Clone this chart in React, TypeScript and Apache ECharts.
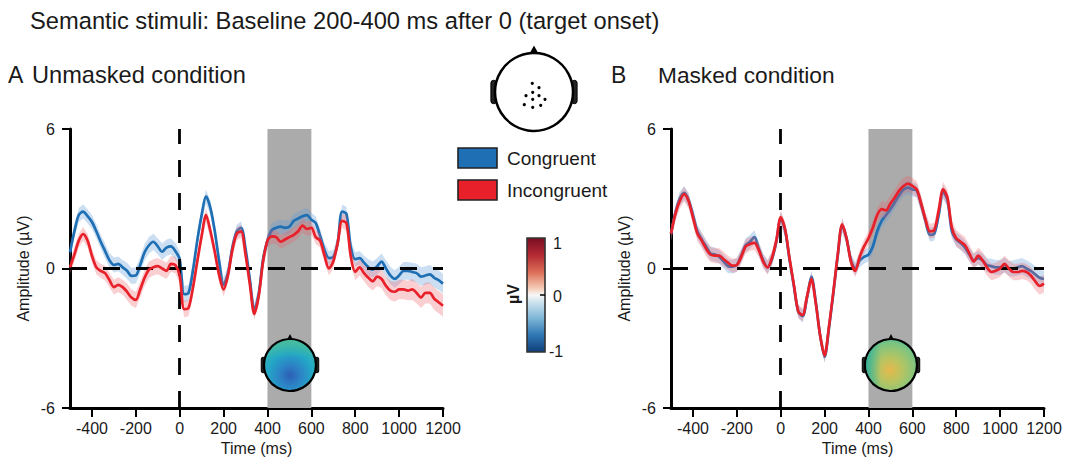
import React, { useEffect, useRef } from "react";
import * as echarts from "echarts";

// ---------- data ----------
const times = [
  -500, -480, -460, -440, -420, -400, -380, -360, -340, -320,
  -300, -280, -260, -240, -220, -200, -180, -160, -140, -120,
  -100, -80, -60, -40, -20, 0, 20, 40, 60, 80,
  100, 120, 140, 160, 180, 200, 220, 240, 260, 280,
  300, 320, 340, 360, 380, 400, 420, 440, 460, 480,
  500, 520, 540, 560, 580, 600, 620, 640, 660, 680,
  700, 720, 740, 760, 780, 800, 820, 840, 860, 880,
  900, 920, 940, 960, 980, 1000, 1020, 1040, 1060, 1080,
  1100, 1120, 1140, 1160, 1180, 1200,
];

const unmaskedCongruent = [
  0.7, 1.6, 2.3, 2.45, 2.25, 2.0, 1.6, 1.15, 0.75, 0.35,
  0.15, 0.2, 0.05, -0.1, -0.32, -0.3, 0.15, 0.7, 1.0, 1.15,
  0.95, 0.72, 0.9, 0.95, 0.75, 0.4, -1.1, -1.05, -0.1, 1.2,
  2.3, 3.1, 2.6, 1.6, 0.3, -0.7, -0.2, 0.9, 1.6, 1.75,
  0.85, -0.5, -1.8, -1.1, 0.4, 1.2, 1.65, 1.75, 1.8, 1.75,
  1.8, 2.05, 2.15, 2.25, 2.3, 2.1, 1.95, 1.4, 0.8, 0.45,
  0.5, 1.1, 2.45, 2.35, 0.9, 0.4, 0.45, 0.25, 0.05, -0.05,
  0.1, 0.3, 0.0, -0.3, -0.45, -0.3, -0.1, -0.1, -0.15, -0.2,
  -0.35, -0.3, -0.25, -0.4, -0.5, -0.65,
];

const unmaskedIncongruent = [
  0.05, 0.6, 1.2, 1.48, 1.2, 0.55, 0.05, -0.1, -0.2, -0.5,
  -0.8, -0.7, -0.8, -1.0, -1.25, -1.35, -0.9, -0.4, -0.05, 0.05,
  0.1, 0.0, -0.1, 0.2, 0.15, -0.3, -1.75, -1.7, -0.85, 0.3,
  1.4, 2.3, 1.6, 0.7, -0.3, -0.9, -0.3, 0.8, 1.5, 1.6,
  0.6, -0.7, -1.95, -1.2, 0.3, 1.2, 1.38, 1.35, 1.15, 1.25,
  1.35, 1.45, 1.6, 1.85, 1.7, 1.75, 1.35, 1.2, 0.55, 0.0,
  0.3, 1.1, 2.05, 1.95, 0.5, -0.15, 0.05, -0.2, -0.4, -0.55,
  -0.35, -0.45, -0.75, -0.95, -1.0, -0.9, -0.9, -0.95, -0.9, -1.05,
  -1.25, -1.05, -1.05, -1.3, -1.45, -1.6,
];

const maskedCongruent = [
  1.5, 2.4, 3.0, 3.25, 2.95, 2.3, 1.6, 1.25, 0.95, 0.65,
  0.6, 0.5, 0.3, 0.1, 0.08, 0.15, 0.55, 1.0, 1.15, 1.35,
  0.85, 0.35, 0.05, 0.4, 1.15, 2.15, 1.65, 0.4, -0.75, -1.85,
  -2.05, -1.25, -0.35, -1.45, -2.9, -3.8, -2.55, -1.05, 0.55, 1.85,
  1.3, 0.35, 0.0, 0.35, 0.5, 0.6, 0.95, 1.6, 2.05, 2.3,
  2.55, 2.85, 3.15, 3.4, 3.48, 3.4, 3.35, 2.75, 2.05, 1.45,
  1.5, 2.3, 3.3, 2.95, 1.6, 1.25, 1.1, 0.9, 0.6, 0.35,
  0.45, 0.35, 0.15, 0.1, 0.05, 0.05, 0.15, 0.0, 0.0, 0.05,
  0.1, 0.0, -0.1, -0.25, -0.4, -0.45,
];

const maskedIncongruent = [
  1.5, 2.35, 2.9, 3.2, 2.9, 2.2, 1.5, 1.2, 0.85, 0.6,
  0.55, 0.55, 0.4, 0.25, 0.12, 0.15, 0.5, 0.95, 1.05, 1.1,
  0.8, 0.3, 0.05, 0.45, 1.2, 2.2, 1.7, 0.45, -0.7, -1.85,
  -2.0, -1.2, -0.45, -1.5, -2.9, -3.75, -2.5, -1.0, 0.6, 1.9,
  1.3, 0.3, -0.1, 0.5, 0.95, 1.3, 1.75, 2.3, 2.55, 2.5,
  2.8, 3.05, 3.35, 3.55, 3.65, 3.55, 3.4, 2.8, 2.1, 1.6,
  1.65, 2.5, 3.4, 3.05, 1.75, 1.3, 1.15, 1.0, 0.65, 0.3,
  0.55, 0.35, 0.05, -0.15, -0.1, 0.0, 0.2, 0.0, -0.15, -0.15,
  -0.1, -0.15, -0.3, -0.55, -0.75, -0.65,
];

// standard-error half widths, one per 100 ms (-500 ... 1200)
const semUnmaskedCongruent = [0.3, 0.3, 0.32, 0.35, 0.35, 0.35, 0.3, 0.3, 0.28, 0.3, 0.3, 0.3, 0.3, 0.3, 0.35, 0.38, 0.4, 0.42];
const semUnmaskedIncongruent = [0.3, 0.3, 0.32, 0.35, 0.35, 0.35, 0.3, 0.3, 0.28, 0.3, 0.3, 0.3, 0.3, 0.35, 0.4, 0.42, 0.45, 0.48];
const semMaskedCongruent = [0.3, 0.3, 0.3, 0.3, 0.3, 0.3, 0.28, 0.28, 0.28, 0.3, 0.3, 0.3, 0.3, 0.3, 0.3, 0.32, 0.35, 0.35];
const semMaskedIncongruent = [0.32, 0.32, 0.32, 0.3, 0.3, 0.3, 0.28, 0.28, 0.28, 0.3, 0.35, 0.35, 0.32, 0.35, 0.35, 0.35, 0.35, 0.38];

const xTickValues = [-400, -200, 0, 200, 400, 600, 800, 1000, 1200];
const shadeWindow = [400, 600];
const legendLabels = ["Congruent", "Incongruent"];
const colorbarLabels = ["1", "0", "-1"];
const titleText = "Semantic stimuli: Baseline 200-400 ms after 0 (target onset)";
const panelTitles = ["Unmasked condition", "Masked condition"];
const panelLetters = ["A", "B"];

// ---------- style ----------
const FONT = "'Liberation Sans', Arial, Helvetica, sans-serif";
const BLUE = "#1f6fb4";
const RED = "#e8202a";
const BLUE_BAND = "rgba(95,155,215,0.32)";
const RED_BAND = "rgba(238,95,105,0.30)";
const TXT = "#1a1a1a";

function semAt(sem: number[], t: number) {
  return sem[Math.round((t + 500) / 100)];
}

function bandSeries(gi: number, vals: number[], sem: number[], color: string, z: number) {
  return {
    type: "custom",
    xAxisIndex: gi,
    yAxisIndex: gi,
    z,
    silent: true,
    data: [[-500, 0]],
    renderItem: (_p: any, api: any) => {
      const up = times.map((t, i) => api.coord([t, vals[i] + semAt(sem, t)]));
      const lo = times.map((t, i) => api.coord([t, vals[i] - semAt(sem, t)])).reverse();
      return {
        type: "polygon",
        shape: { points: up.concat(lo) },
        style: { fill: color },
      };
    },
  };
}

function lineSeries(gi: number, vals: number[], color: string, z: number, name: string) {
  return {
    type: "line",
    name,
    xAxisIndex: gi,
    yAxisIndex: gi,
    z,
    silent: true,
    data: times.map((t, i) => [t, vals[i]]),
    showSymbol: false,
    symbol: "none",
    smooth: 0.3,
    lineStyle: { color, width: 2.7 },
    itemStyle: { color },
  };
}

function shadeSeries(gi: number) {
  return {
    type: "line",
    xAxisIndex: gi,
    yAxisIndex: gi,
    z: 1,
    silent: true,
    data: [[-500, 0]],
    symbol: "none",
    lineStyle: { opacity: 0 },
    markArea: {
      silent: true,
      itemStyle: { color: "#ababab" },
      data: [[{ xAxis: shadeWindow[0] }, { xAxis: shadeWindow[1] }]],
    },
  };
}

function refSeries(gi: number) {
  return {
    type: "line",
    xAxisIndex: gi,
    yAxisIndex: gi,
    z: 8,
    silent: true,
    data: [[-500, 0]],
    symbol: "none",
    lineStyle: { opacity: 0 },
    markLine: {
      silent: true,
      symbol: ["none", "none"],
      label: { show: false },
      lineStyle: { color: "#000", width: 2.8, type: [17, 16] },
      data: [{ xAxis: 0 }, { yAxis: 0 }],
    },
  };
}

function xAxisDef(gi: number) {
  return {
    type: "value",
    gridIndex: gi,
    min: -500,
    max: 1200,
    name: "Time (ms)",
    nameLocation: "middle",
    nameGap: 31,
    nameTextStyle: { fontSize: 16, color: TXT, fontFamily: FONT },
    axisLine: { show: true, onZero: false, lineStyle: { color: "#000", width: 3 } },
    axisTick: { show: true, customValues: xTickValues, length: 9, lineStyle: { color: "#000", width: 2 } },
    axisLabel: {
      customValues: xTickValues,
      formatter: (v: number) => String(v),
      fontSize: 16,
      color: TXT,
      fontFamily: FONT,
      margin: 12,
    },
    splitLine: { show: false },
  };
}

function yAxisDef(gi: number) {
  return {
    type: "value",
    gridIndex: gi,
    min: -6,
    max: 6,
    interval: 6,
    name: "Amplitude (µV)",
    nameLocation: "middle",
    nameGap: 39,
    nameTextStyle: { fontSize: 16, color: TXT, fontFamily: FONT },
    axisLine: { show: true, onZero: false, lineStyle: { color: "#000", width: 3 } },
    axisTick: { show: true, length: 8, lineStyle: { color: "#000", width: 2 } },
    axisLabel: { fontSize: 16, color: TXT, fontFamily: FONT, margin: 15 },
    splitLine: { show: false },
  };
}

function txt(text: string, x: number, y: number, size: number, extra: any = {}) {
  return {
    type: "text",
    x,
    y,
    z: 20,
    silent: true,
    style: {
      text,
      fontSize: size,
      fontFamily: FONT,
      fill: TXT,
      textAlign: "left",
      textVerticalAlign: "middle",
      align: "left",
      verticalAlign: "middle",
      ...extra,
    },
  };
}

function headOutline(cx: number, cy: number, r: number, lw: number, fill: any, overlay?: any) {
  const earW = r * 0.14;
  const earH = r * 0.6;
  const els: any[] = [
    {
      type: "rect",
      z: 20,
      silent: true,
      shape: { x: cx - r - earW * 0.75, y: cy - earH / 2, width: earW, height: earH, r: earW / 2 },
      style: { fill: "#222", stroke: "#000", lineWidth: 1 },
    },
    {
      type: "rect",
      z: 20,
      silent: true,
      shape: { x: cx + r - earW * 0.25, y: cy - earH / 2, width: earW, height: earH, r: earW / 2 },
      style: { fill: "#222", stroke: "#000", lineWidth: 1 },
    },
    {
      type: "polygon",
      z: 20,
      silent: true,
      shape: { points: [[cx - r * 0.12, cy - r + 1], [cx, cy - r - r * 0.19], [cx + r * 0.12, cy - r + 1]] },
      style: { fill: "#000" },
    },
    {
      type: "circle",
      z: 21,
      silent: true,
      shape: { cx, cy, r },
      style: { fill, stroke: "#000", lineWidth: lw },
    },
  ];
  if (overlay) {
    els.push({
      type: "circle",
      z: 22,
      silent: true,
      shape: { cx, cy, r: r - lw / 2 },
      style: { fill: overlay },
    });
  }
  return els;
}

const electrodeDots = [
  [532.3, 83.3], [539, 87.7], [532.7, 92.3], [526, 95.7], [539, 95.7],
  [532.7, 99.3], [545, 99.3], [524.3, 104.7], [532.7, 107.3], [540.7, 105.3],
];

function buildGraphics() {
  const g: any[] = [];
  g.push(txt(titleText, 30, 21, 23.7));
  g.push(txt(panelLetters[0], 8, 75, 23));
  g.push(txt(panelTitles[0], 32, 75, 23.6));
  g.push(txt(panelLetters[1], 611, 75, 23));
  g.push(txt(panelTitles[1], 658, 75, 22.7));

  // head schematic
  g.push(...headOutline(534, 92, 39, 2.5, "#fff"));
  electrodeDots.forEach(([x, y]) =>
    g.push({ type: "circle", z: 22, silent: true, shape: { cx: x, cy: y, r: 1.6 }, style: { fill: "#000" } })
  );

  // legend
  [BLUE, RED].forEach((c, i) => {
    const y = 148 + i * 32;
    g.push({
      type: "rect",
      z: 20,
      silent: true,
      shape: { x: 458, y, width: 39, height: 20 },
      style: { fill: c, stroke: "#222", lineWidth: 1.6 },
    });
    g.push(txt(legendLabels[i], 507, y + 10, 19));
  });

  // colorbar
  g.push({
    type: "rect",
    z: 20,
    silent: true,
    shape: { x: 527, y: 238, width: 18, height: 114 },
    style: {
      stroke: "#333",
      lineWidth: 1.6,
      fill: {
        type: "linear",
        x: 0,
        y: 0,
        x2: 0,
        y2: 1,
        colorStops: [
          { offset: 0, color: "#7a0d22" },
          { offset: 0.15, color: "#b42a33" },
          { offset: 0.3, color: "#dc6e58" },
          { offset: 0.44, color: "#f5cbb6" },
          { offset: 0.5, color: "#f7f7f7" },
          { offset: 0.56, color: "#cfe3ee" },
          { offset: 0.7, color: "#80b7d8" },
          { offset: 0.85, color: "#2f78b5" },
          { offset: 1, color: "#0f3e78" },
        ],
      },
    },
  });
  g.push({
    type: "line",
    z: 21,
    silent: true,
    shape: { x1: 540, y1: 295, x2: 545, y2: 295 },
    style: { stroke: "#000", lineWidth: 1.5 },
  });
  g.push(txt(colorbarLabels[0], 553, 243, 16));
  g.push(txt(colorbarLabels[1], 553, 296, 16));
  g.push(txt(colorbarLabels[2], 549, 351, 16));
  g.push({
    ...txt("µV", 513, 294, 16, { fontWeight: "bold", textAlign: "center", align: "center" }),
    rotation: Math.PI / 2,
  });

  // topographic maps
  const leftFill = {
    type: "radial",
    x: 0.5,
    y: 0.7,
    r: 0.7,
    colorStops: [
      { offset: 0, color: "#2c5fb5" },
      { offset: 0.3, color: "#2c84c6" },
      { offset: 0.62, color: "#22a8c6" },
      { offset: 1, color: "#3cbba8" },
    ],
  };
  const leftOverlay = {
    type: "linear",
    x: 0,
    y: 0,
    x2: 0,
    y2: 1,
    colorStops: [
      { offset: 0, color: "rgba(80,190,150,0.65)" },
      { offset: 0.35, color: "rgba(80,190,150,0)" },
      { offset: 1, color: "rgba(80,190,150,0)" },
    ],
  };
  const rightFill = {
    type: "radial",
    x: 0.48,
    y: 0.6,
    r: 0.7,
    colorStops: [
      { offset: 0, color: "#e6b84c" },
      { offset: 0.35, color: "#b5c562" },
      { offset: 0.75, color: "#7ac482" },
      { offset: 1, color: "#2fb0a2" },
    ],
  };
  const rightOverlay = {
    type: "linear",
    x: 0,
    y: 0,
    x2: 1,
    y2: 0,
    colorStops: [
      { offset: 0, color: "rgba(20,170,165,0.7)" },
      { offset: 0.3, color: "rgba(20,170,165,0)" },
      { offset: 1, color: "rgba(20,170,165,0)" },
    ],
  };
  g.push(...headOutline(290, 365, 26, 2.2, leftFill, leftOverlay));
  g.push(...headOutline(891, 365, 26, 2.2, rightFill, rightOverlay));
  return g;
}

export default function App() {
  const ref = useRef<HTMLDivElement>(null);
  useEffect(() => {
    if (!ref.current) return;
    const chart = echarts.init(ref.current, null, { renderer: "svg" });
    const option: any = {
      animation: false,
      backgroundColor: "#ffffff",
      textStyle: { fontFamily: FONT },
      grid: [
        { left: 70, top: 129, width: 373, height: 279, outerBoundsMode: "none", containLabel: false },
        { left: 671, top: 129, width: 373, height: 279, outerBoundsMode: "none", containLabel: false },
      ],
      xAxis: [xAxisDef(0), xAxisDef(1)],
      yAxis: [yAxisDef(0), yAxisDef(1)],
      series: [
        shadeSeries(0),
        bandSeries(0, unmaskedCongruent, semUnmaskedCongruent, BLUE_BAND, 2),
        lineSeries(0, unmaskedCongruent, BLUE, 3, "Congruent"),
        bandSeries(0, unmaskedIncongruent, semUnmaskedIncongruent, RED_BAND, 4),
        lineSeries(0, unmaskedIncongruent, RED, 5, "Incongruent"),
        refSeries(0),
        shadeSeries(1),
        bandSeries(1, maskedCongruent, semMaskedCongruent, BLUE_BAND, 2),
        lineSeries(1, maskedCongruent, BLUE, 3, "Congruent"),
        bandSeries(1, maskedIncongruent, semMaskedIncongruent, RED_BAND, 4),
        lineSeries(1, maskedIncongruent, RED, 5, "Incongruent"),
        refSeries(1),
      ],
      graphic: { elements: buildGraphics() },
    };
    chart.setOption(option);
    return () => chart.dispose();
  }, []);
  return (
    <div
      ref={ref}
      style={{ position: "absolute", left: 0, top: 0, width: 1071, height: 457, background: "#fff" }}
    />
  );
}
